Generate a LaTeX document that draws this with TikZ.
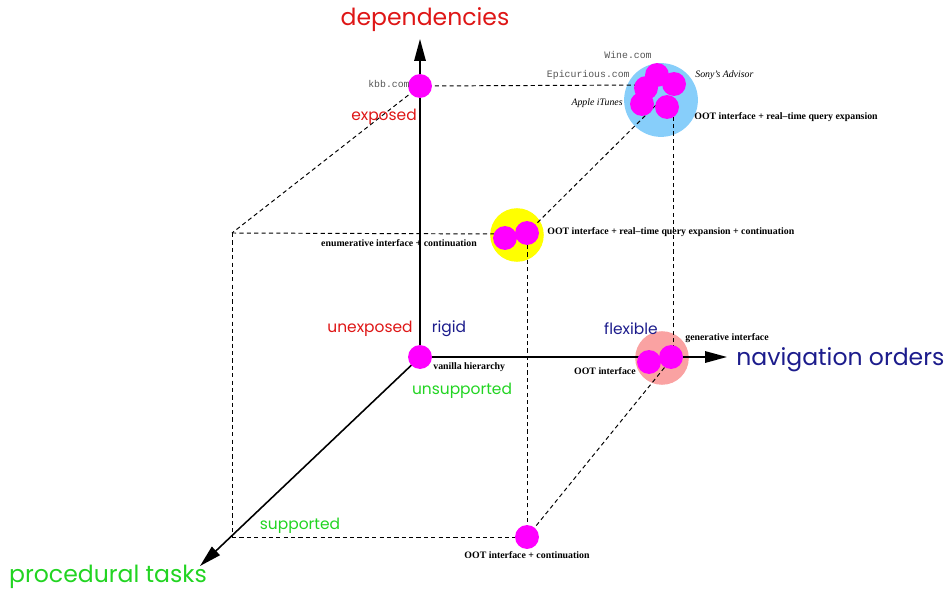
\documentclass[tikz,border=0pt]{standalone}
\usepackage{fontspec}
\setmainfont{Liberation Serif}
\setmonofont{Liberation Mono}
\newfontfamily\axisfont{Poppins}
\usetikzlibrary{arrows.meta}
\definecolor{depred}{RGB}{222,22,22}
\definecolor{navnavy}{RGB}{28,28,140}
\definecolor{procgreen}{RGB}{34,212,34}
\definecolor{sitemag}{RGB}{255,0,255}
\definecolor{clusblue}{RGB}{135,206,250}
\definecolor{clusyellow}{RGB}{255,255,0}
\definecolor{cluspink}{RGB}{250,162,162}
\definecolor{urlgray}{RGB}{85,85,85}
\begin{document}
\begin{tikzpicture}[x=0.02cm,y=-0.02cm,
  every node/.style={inner sep=0pt},
  site/.style={circle,fill=sitemag,minimum size=13.6pt},
  clus/.style={circle,minimum size=30.5pt},
  edge/.style={line width=0.55pt,dash pattern=on 2.4pt off 1.8pt},
  axis/.style={line width=0.9pt,-{Triangle[length=4.4mm,width=2.3mm]}},
  axislabel/.style={font=\axisfont\fontsize{13.4}{15}\selectfont},
  valuelabel/.style={font=\axisfont\fontsize{8.8}{10}\selectfont},
  iface/.style={font=\bfseries\fontsize{5.6}{6}\selectfont},
  company/.style={font=\itshape\fontsize{5.6}{6}\selectfont},
  url/.style={font=\ttfamily\fontsize{5.6}{6}\selectfont,text=urlgray}]
\useasboundingbox (0,0) rectangle (947,592);
\node[clus,fill=clusblue,minimum size=42pt] (blue) at (661,100) {};
\node[clus,fill=clusyellow] (yellow) at (517,235) {};
\node[clus,fill=cluspink] (pink) at (662,358) {};
\coordinate (corner) at (232,233);
\coordinate (floor) at (232,537);
\coordinate (ytip) at (420,39);
\coordinate (xtip) at (727,357);
\coordinate (ztip) at (200,566);
\coordinate (O) at (420,357);
\coordinate (kbbc) at (420,86);
\coordinate (y2c) at (527,233);
\coordinate (p2c) at (673,357);
\coordinate (botc) at (527,537);
\draw[edge] (kbbc) -- (646,85);
\draw[edge] (kbbc) -- (corner);
\draw[edge] (corner) -- (505,234);
\draw[edge] (corner) -- (floor);
\draw[edge] (floor) -- (botc);
\draw[edge] (botc) -- (y2c);
\draw[edge] (botc) -- (p2c);
\draw[edge] (y2c) -- (blue.center);
\draw[edge] (p2c) -- (p2c |- blue.center);
\draw[axis] (O) -- (ytip);
\draw[axis] (O) -- (xtip);
\draw[axis] (O) -- (ztip);
\node[site] (kbb) at (kbbc) {};
\node[site] (vanilla) at (O) {};
\node[site] (bottom) at (botc) {};
\node[site] (y1) at (505,238) {};
\node[site] (y2) at (y2c) {};
\node[site] (p1) at (649,362) {};
\node[site] (p2) at (671,357) {};
\node[site] (b1) at (657,75) {};
\node[site] (b2) at (674,84) {};
\node[site] (b3) at (646,88) {};
\node[site] (b4) at (642,104) {};
\node[site] (b5) at (667,107) {};
\node[axislabel,text=depred] (deplbl) at (425,20) {dependencies};
\node[axislabel,text=navnavy,anchor=west] (navlbl) at (736,360) {navigation orders};
\node[axislabel,text=procgreen] (proclbl) at (108,577) {procedural tasks};
\node[valuelabel,text=depred] (exposed) at (384,117) {exposed};
\node[valuelabel,text=depred] (unexposed) at (370,329) {unexposed};
\node[valuelabel,text=navnavy] (rigid) at (449,329) {rigid};
\node[valuelabel,text=navnavy] (flexible) at (631,329) {flexible};
\node[valuelabel,text=procgreen] (unsupported) at (462,391) {unsupported};
\node[valuelabel,text=procgreen] (supported) at (300,526) {supported};
\node[iface,anchor=west] (vanillalbl) at (433,367) {vanilla hierarchy};
\node[iface,anchor=east] (ootlbl) at (636,371) {OOT interface};
\node[iface,anchor=west] (genlbl) at (685,338) {generative interface};
\node[iface] (enumlbl) at (399,243) {enumerative interface + continuation};
\node[iface,anchor=west] (ootqclbl) at (547,232) {OOT interface + real--time query expansion + continuation};
\node[iface,anchor=west] (ootqlbl) at (694,117) {OOT interface + real--time query expansion};
\node[iface] (ootclbl) at (527,555) {OOT interface + continuation};
\node[company,anchor=west] (sony) at (695,75) {Sony's Advisor};
\node[company,anchor=east] (itunes) at (623,103) {Apple iTunes};
\node[url] (wine) at (628,55) {Wine.com};
\node[url,anchor=east] (epic) at (630,75) {Epicurious.com};
\node[url,anchor=east] (kbblbl) at (410,84) {kbb.com};
\end{tikzpicture}
\end{document}
